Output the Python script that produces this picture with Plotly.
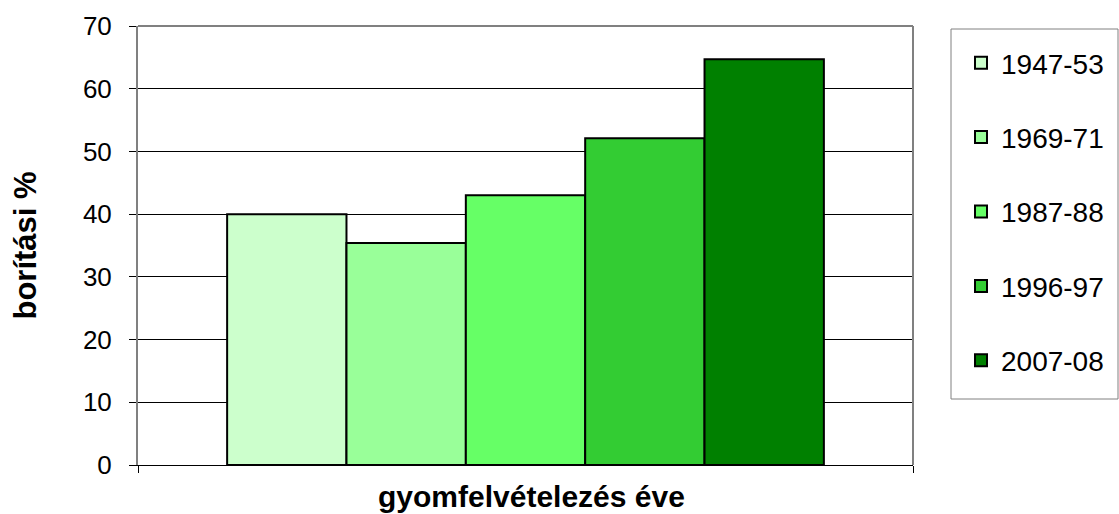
import plotly.graph_objects as go

category = ["gyomfelvételezés éve"]
series_names = ["1947-53", "1969-71", "1987-88", "1996-97", "2007-08"]
series_values = [40.0, 35.4, 43.0, 52.1, 64.7]
colors = ["#CCFFCC", "#99FF99", "#66FF66", "#33CC33", "#008000"]
y_ticks = [0, 10, 20, 30, 40, 50, 60, 70]

FONT = "Liberation Sans, Arial, sans-serif"

fig = go.Figure()
for i, (name, val, col) in enumerate(zip(series_names, series_values, colors)):
    fig.add_trace(go.Bar(
        x=category, y=[val], name=name,
        marker=dict(color=col, line=dict(color="black", width=2)),
        legendgroup=f"g{i}",
    ))

L, R, T, B = 138, 913, 26, 465
W, H = 1119, 514
pw, ph = R - L, B - T

def px_x(v):
    return (v - L) / pw

def px_y(v):
    return (B - v) / ph

fig.update_layout(
    width=W, height=H,
    margin=dict(l=L, r=W - R, t=T, b=H - B, autoexpand=False),
    paper_bgcolor="white", plot_bgcolor="white",
    barmode="group", bargap=0.23, bargroupgap=0,
    font=dict(family=FONT, color="black"),
    showlegend=True,
    legend=dict(
        x=px_x(961), xanchor="left", y=px_y(38), yanchor="top",
        borderwidth=0, bgcolor="rgba(0,0,0,0)",
        font=dict(size=28, family=FONT),
        traceorder="grouped", tracegroupgap=35,
    ),
    xaxis=dict(
        type="category", showticklabels=False, ticks="outside", ticklen=7,
        tickson="boundaries", tickcolor="black",
        showline=True, linecolor="black", linewidth=1, mirror=False,
        showgrid=False, zeroline=False,
    ),
    yaxis=dict(
        range=[0, 70], tickvals=y_ticks, ticks="outside", ticklen=7,
        tickcolor="black", tickfont=dict(size=26), ticklabelstandoff=12,
        showline=True, linecolor="#808080", linewidth=2, mirror=False,
        showgrid=True, gridcolor="black", gridwidth=1, zeroline=False,
    ),
    annotations=[
        dict(text="<b>borítási %</b>", x=px_x(25), y=0.5, xref="paper", yref="paper",
             showarrow=False, textangle=-90, font=dict(size=31),
             xanchor="center", yanchor="middle"),
        dict(text="<b>gyomfelvételezés éve</b>", x=px_x(531), y=px_y(497),
             xref="paper", yref="paper",
             showarrow=False, font=dict(size=30), xanchor="center", yanchor="middle"),
    ],
    shapes=[
        dict(type="line", xref="paper", yref="paper", x0=0, x1=1, y0=1, y1=1,
             line=dict(color="#808080", width=2)),
        dict(type="line", xref="paper", yref="paper", x0=1, x1=1, y0=0, y1=1,
             line=dict(color="#808080", width=2)),
        dict(type="rect", xref="paper", yref="paper",
             x0=px_x(951), x1=px_x(1118), y0=px_y(399), y1=px_y(29),
             line=dict(color="#808080", width=1), layer="below"),
    ],
)

fig.write_html(
    "out.html", config={"displayModeBar": False},
    post_script=(
        "document.body.style.margin='0';"
        "document.body.style.overflow='hidden';"
        "document.documentElement.style.overflow='hidden';"
    ),
)
